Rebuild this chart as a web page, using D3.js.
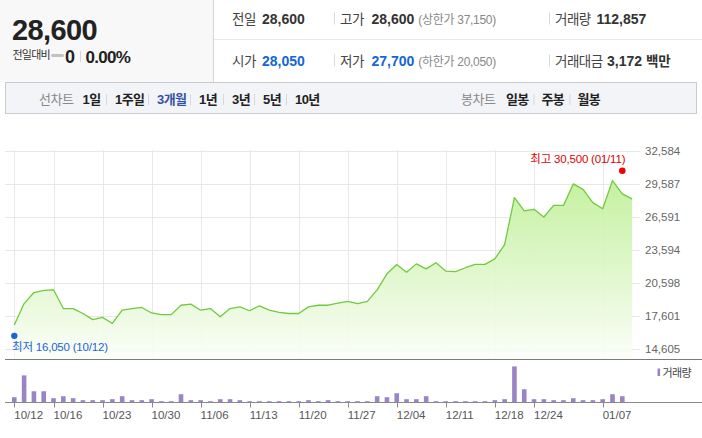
<!DOCTYPE html>
<html>
<head>
<meta charset="utf-8">
<script src="https://cdn.jsdelivr.net/npm/d3@7"></script>
<style>
  body { margin: 0; background: #fff; }
  svg { display: block; font-family: "Liberation Sans", Arial, "Noto Sans CJK KR", sans-serif; }
</style>
</head>
<body>
<div id="canvas"></div>
<script>
// trading days, 2020-10-12 .. 2021-01-12
var dates = [
  '10/12', '10/13', '10/14', '10/15', '10/16', '10/19', '10/20', '10/21', '10/22', '10/23',
  '10/26', '10/27', '10/28', '10/29', '10/30',
  '11/02', '11/03', '11/04', '11/05', '11/06', '11/09', '11/10', '11/11', '11/12', '11/13',
  '11/16', '11/17', '11/18', '11/19', '11/20', '11/23', '11/24', '11/25', '11/26', '11/27', '11/30',
  '12/01', '12/02', '12/03', '12/04', '12/07', '12/08', '12/09', '12/10', '12/11',
  '12/14', '12/15', '12/16', '12/17', '12/18', '12/21', '12/22', '12/23', '12/24',
  '12/28', '12/29', '12/30',
  '01/04', '01/05', '01/06', '01/07', '01/08', '01/11', '01/12'
]
var closes = [
  16800, 18750, 19750, 19950, 20000, 18300, 18300, 17850, 17300, 17500,
  16950, 18150, 18300, 18400, 17900,
  17750, 17750, 18600, 18700, 18150, 18300, 17550, 18300, 18450, 18100,
  18550, 18150, 17950, 17850, 17850, 18450, 18600, 18600, 18800, 18950, 18750,
  18950, 20000, 21450, 22300, 21600, 22350, 21900, 22450, 21700,
  21650, 22000, 22300, 22300, 22800, 24100, 28350, 27150, 27300,
  26600, 27650, 27650,
  29600, 29100, 27900, 27350, 29900, 28700, 28250
]
// volume, thousand shares
var volumes = [
  480, 2460, 1020, 1020, 390, 570, 390, 210, 210, 210,
  300, 570, 210, 210, 300,
  120, 120, 750, 210, 210, 120, 300, 300, 210, 120,
  120, 120, 120, 120, 120, 210, 120, 210, 120, 120, 120,
  120, 570, 480, 840, 300, 300, 570, 120, 120,
  120, 120, 120, 120, 210, 300, 3270, 1200, 300,
  300, 210, 210,
  390, 210, 210, 300, 750, 570, 0
]
var yTicks = [14605, 17601, 20598, 23594, 26591, 29587, 32584]
var xTicks = ['10/12', '10/16', '10/23', '10/30', '11/06', '11/13', '11/20', '11/27', '12/04', '12/11', '12/18', '12/24', '01/07']
var lowMark = {date: '10/12', price: 16050}
var highMark = {date: '01/11', price: 30500}

var quoteRows = [
  [['전일', '28,600', '', '#333'], ['고가', '28,600', '(상한가 37,150)', '#333'], ['거래량', '112,857', '', '#333']],
  [['시가', '28,050', '', '#1565d8'], ['저가', '27,700', '(하한가 20,050)', '#1565d8'], ['거래대금', '3,172', '백만', '#333']]
]
var lineTabs = ['1일', '1주일', '3개월', '1년', '3년', '5년', '10년']
var candleTabs = ['일봉', '주봉', '월봉']

var W = 702, H = 438
var svg = d3.select('#canvas').append('svg')
  .attr('width', W).attr('height', H)

// ---- header ----
svg.append('rect').attr('x', 0).attr('y', 0).attr('width', 213).attr('height', 82).attr('fill', '#f8f8f8')
svg.append('line').attr('x1', 213.5).attr('x2', 213.5).attr('y1', 0).attr('y2', 82).attr('stroke', '#d6d6d6')
svg.append('line').attr('x1', 214).attr('x2', W).attr('y1', 39.5).attr('y2', 39.5).attr('stroke', '#e9e9e9')

svg.append('text').attr('x', 12).attr('y', 39.5)
  .attr('font-size', 29).attr('font-weight', 'bold').attr('letter-spacing', -0.6).attr('fill', '#222')
  .text('28,600')
svg.append('text').attr('x', 12.5).attr('y', 58.5).attr('font-size', 11).attr('letter-spacing', -0.8).attr('fill', '#333').text('전일대비')
svg.append('rect').attr('x', 51).attr('y', 54).attr('width', 13).attr('height', 3).attr('rx', 1.5).attr('fill', '#c2c2c2')
svg.append('text').attr('x', 65).attr('y', 62.5).attr('font-size', 18).attr('font-weight', 'bold').attr('fill', '#222').text('0')
svg.append('line').attr('x1', 80.5).attr('x2', 80.5).attr('y1', 51).attr('y2', 62).attr('stroke', '#d4d4d4')
svg.append('text').attr('x', 85.5).attr('y', 62.5).attr('font-size', 17).attr('font-weight', 'bold')
  .attr('letter-spacing', -0.7).attr('fill', '#222').text('0.00%')

var colLabelX = [232, 340, 555]
var colValueX = [[262, 371.5, 596.5], [262, 371.5, 607]]
var rowBase = [23.5, 65.5]
quoteRows.forEach((row, r) => {
  row.forEach((q, c) => {
    svg.append('text').attr('x', colLabelX[c]).attr('y', rowBase[r])
      .attr('font-size', 13.5).attr('letter-spacing', -0.5).attr('fill', '#444').text(q[0])
    var v = svg.append('text').attr('x', colValueX[r][c]).attr('y', rowBase[r])
      .attr('font-size', 14).attr('font-weight', 'bold').attr('fill', q[3]).text(q[1])
    if (q[2]) {
      var w = v.node().getComputedTextLength()
      var extra = svg.append('text').attr('x', colValueX[r][c] + w + 4).attr('y', rowBase[r])
        .attr('letter-spacing', -0.3).text(q[2])
      if (c === 2) extra.attr('font-size', 13.5).attr('font-weight', 'bold').attr('fill', '#333')
      else extra.attr('font-size', 12).attr('fill', '#888')
    }
    if (c > 0) {
      svg.append('line').attr('x1', colLabelX[c] - 5.5).attr('x2', colLabelX[c] - 5.5)
        .attr('y1', rowBase[r] - 11).attr('y2', rowBase[r] + 1).attr('stroke', '#d8d8d8')
    }
  })
})

// ---- tab bar ----
svg.append('rect').attr('x', 5.5).attr('y', 82.5).attr('width', 691).attr('height', 31)
  .attr('fill', '#f3f4f7').attr('stroke', '#c8ccd2')
var tabBase = 104
svg.append('text').attr('x', 39).attr('y', tabBase).attr('font-size', 13).attr('letter-spacing', -0.5).attr('fill', '#888').text('선차트')
var tabX = [82.5, 115, 157, 199, 232, 263, 295]
lineTabs.forEach((t, i) => {
  svg.append('text').attr('x', tabX[i]).attr('y', tabBase).attr('font-size', 13)
    .attr('font-weight', 'bold').attr('letter-spacing', -0.6)
    .attr('fill', t === '3개월' ? '#3553a5' : '#222').text(t)
  if (i > 0) {
    svg.append('line').attr('x1', tabX[i] - 8.5).attr('x2', tabX[i] - 8.5)
      .attr('y1', tabBase - 10).attr('y2', tabBase + 1).attr('stroke', '#d6d8dc')
  }
})
svg.append('text').attr('x', 461).attr('y', tabBase).attr('font-size', 13).attr('letter-spacing', -0.5).attr('fill', '#888').text('봉차트')
var ctabX = [506, 541.5, 577.5]
candleTabs.forEach((t, i) => {
  svg.append('text').attr('x', ctabX[i]).attr('y', tabBase).attr('font-size', 13)
    .attr('font-weight', 'bold').attr('letter-spacing', -0.6).attr('fill', '#222').text(t)
  if (i > 0) {
    svg.append('line').attr('x1', ctabX[i] - 7.5).attr('x2', ctabX[i] - 7.5)
      .attr('y1', tabBase - 10).attr('y2', tabBase + 1).attr('stroke', '#d6d8dc')
  }
})

// ---- price chart ----
var plotLeft = 5, gridRight = 640, priceTop = 151, priceBottom = 359.5
var x = d3.scaleLinear().domain([0, dates.length - 1]).range([14.3, 632.1])
var y = d3.scaleLinear().domain([14605, 32584]).range([349.3, 151])
var yv = d3.scaleLinear().domain([0, 3900]).range([402.5, 359.5])
var xi = d => x(dates.indexOf(d))

var defs = svg.append('defs')
var grad = defs.append('linearGradient').attr('id', 'areaFill')
  .attr('gradientUnits', 'userSpaceOnUse').attr('x1', 0).attr('x2', 0).attr('y1', priceTop).attr('y2', priceBottom)
grad.append('stop').attr('offset', 0).attr('stop-color', '#b6ee88')
grad.append('stop').attr('offset', 0.55).attr('stop-color', '#dcf6c6')
grad.append('stop').attr('offset', 1).attr('stop-color', '#fbfef8')

// horizontal grid + labels
svg.append('g').selectAll('line').data(yTicks).enter().append('line')
  .attr('x1', plotLeft).attr('x2', gridRight)
  .attr('y1', d => Math.round(y(d)) + 0.5).attr('y2', d => Math.round(y(d)) + 0.5)
  .attr('stroke', '#e8e8e8')
svg.append('g').selectAll('text').data(yTicks).enter().append('text')
  .attr('x', 645).attr('y', d => y(d) + 4)
  .attr('font-size', 11.5).attr('fill', '#666')
  .text(d => d3.format(',')(d))

// vertical grid
svg.append('g').selectAll('line').data(xTicks).enter().append('line')
  .attr('x1', d => Math.round(xi(d)) + 0.5).attr('x2', d => Math.round(xi(d)) + 0.5)
  .attr('y1', priceTop - 1).attr('y2', priceBottom)
  .attr('stroke', '#e8e8e8')

var area = d3.area()
  .x((d, i) => x(i))
  .y0(priceBottom)
  .y1(d => y(d))
svg.append('path').datum(closes).attr('d', area).attr('fill', 'url(#areaFill)').attr('opacity', 0.92)

var line = d3.line()
  .x((d, i) => x(i))
  .y(d => y(d))
svg.append('path').datum(closes).attr('d', line)
  .attr('fill', 'none').attr('stroke', '#6fcb3c').attr('stroke-width', 1.3).attr('stroke-linejoin', 'round')

// high / low markers
svg.append('circle').attr('cx', xi(highMark.date)).attr('cy', y(highMark.price) - 3.3).attr('r', 3.3).attr('fill', '#f00000')
svg.append('text').attr('x', xi(highMark.date) + 3).attr('y', y(highMark.price) - 10.5)
  .attr('text-anchor', 'end').attr('font-size', 11.5).attr('letter-spacing', -0.2).attr('fill', '#e00000')
  .text('최고 ' + d3.format(',')(highMark.price) + ' (' + highMark.date + ')')
svg.append('circle').attr('cx', xi(lowMark.date)).attr('cy', y(lowMark.price) + 2.5).attr('r', 3.2).attr('fill', '#1d63d9')
svg.append('text').attr('x', 12).attr('y', y(lowMark.price) + 17.5)
  .attr('font-size', 11.5).attr('letter-spacing', -0.2).attr('fill', '#1d63d9')
  .text('최저 ' + d3.format(',')(lowMark.price) + ' (' + lowMark.date + ')')

svg.append('line').attr('x1', plotLeft).attr('x2', W).attr('y1', priceBottom).attr('y2', priceBottom)
  .attr('stroke', '#7a7a7a')

// ---- volume ----
svg.append('g').selectAll('rect').data(volumes).enter().append('rect')
  .attr('x', (d, i) => x(i) - 2.3)
  .attr('width', 4.6)
  .attr('y', d => yv(d))
  .attr('height', d => yv(0) - yv(d))
  .attr('fill', '#9a84c6')

svg.append('line').attr('x1', plotLeft).attr('x2', W).attr('y1', yv(0)).attr('y2', yv(0))
  .attr('stroke', '#8a8a8a')

var xt = svg.append('g')
xt.selectAll('line').data(xTicks).enter().append('line')
  .attr('x1', d => Math.round(xi(d)) + 0.5).attr('x2', d => Math.round(xi(d)) + 0.5)
  .attr('y1', yv(0)).attr('y2', yv(0) + 5)
  .attr('stroke', '#8a8a8a')
xt.selectAll('text').data(xTicks).enter().append('text')
  .attr('x', d => xi(d)).attr('y', 418.5)
  .attr('font-size', 11.5).attr('fill', '#555')
  .text(d => d)

svg.append('rect').attr('x', 657.5).attr('y', 368.5).attr('width', 2.6).attr('height', 7.5).attr('fill', '#9a84c6')
svg.append('text').attr('x', 662.5).attr('y', 376.5).attr('font-size', 11).attr('letter-spacing', -0.6).attr('fill', '#444').text('거래량')
</script>
</body>
</html>
